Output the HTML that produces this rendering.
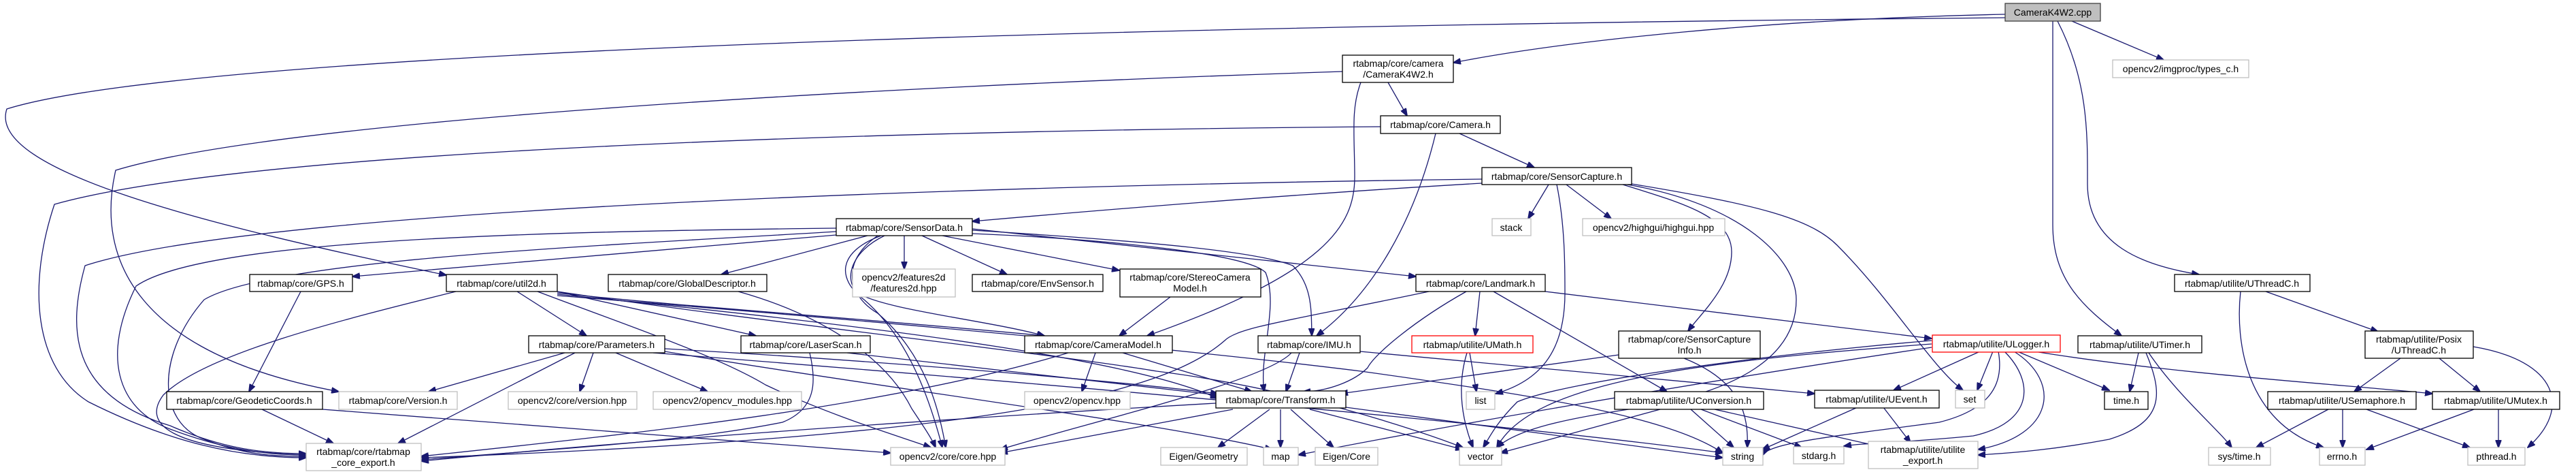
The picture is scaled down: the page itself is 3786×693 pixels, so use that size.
<!DOCTYPE html>
<html><head><meta charset="utf-8"><style>
html,body{margin:0;padding:0;background:#fff;width:3786px;height:693px;overflow:hidden}
svg{display:block}
text{font-family:"Liberation Sans",sans-serif;font-size:14px;fill:#000;text-anchor:middle}
.n{fill:#fff;stroke:#000;stroke-width:1.3}
.g{fill:#fff;stroke:#bfbfbf;stroke-width:1.3}
.r{fill:#fff;stroke:#ff0000;stroke-width:1.3}
.e path{fill:none;stroke:#191970;stroke-width:1.3}
</style></head><body>
<svg width="3786" height="693" viewBox="0 0 3786 693" xmlns="http://www.w3.org/2000/svg">
<defs><marker id="a" markerWidth="12" markerHeight="9" refX="11" refY="4.5" orient="auto" markerUnits="userSpaceOnUse"><path d="M0,0 L12,4.5 L0,9 z" fill="#191970" stroke="#191970"/></marker></defs>
<g class="e" marker-end="url(#a)">
<path marker-end="url(#a)" d="M2947,21 C2600,28 2300,60 2136,92"/>
<path marker-end="url(#a)" d="M2947,26 C1800,36 300,70 10,160 C-20,250 300,330 656,404"/>
<path marker-end="url(#a)" d="M3045,31 L3180,88"/>
<path marker-end="url(#a)" d="M3024,31 C3070,120 3068,200 3068,270 C3068,360 3150,390 3232,403"/>
<path marker-end="url(#a)" d="M3017,31 L3017,330 C3017,410 3060,450 3118,493"/>
<path marker-end="url(#a)" d="M1973,105 C1200,130 400,180 170,250 C140,380 200,520 498,575"/>
<path marker-end="url(#a)" d="M2040,121 L2068,170"/>
<path marker-end="url(#a)" d="M2000,121 C1985,160 1991,200 1991,260 C1991,330 1950,400 1686,493"/>
<path marker-end="url(#a)" d="M2029,186 C1500,190 400,210 80,300 C40,420 50,540 130,590 C250,650 350,672 450,672"/>
<path marker-end="url(#a)" d="M2110,196 C2080,320 2020,430 1935,493"/>
<path marker-end="url(#a)" d="M2145,196 L2255,246"/>
<path marker-end="url(#a)" d="M2178,263 C1600,270 400,300 125,390 C100,480 100,580 250,625 C330,660 390,666 450,666"/>
<path marker-end="url(#a)" d="M2178,269 C1900,285 1600,310 1429,325"/>
<path marker-end="url(#a)" d="M2276,271 L2246,321"/>
<path marker-end="url(#a)" d="M2302,271 L2368,321"/>
<path marker-end="url(#a)" d="M2288,271 C2300,330 2300,390 2300,430 C2300,520 2260,560 2198,578"/>
<path marker-end="url(#a)" d="M2385,271 C2480,300 2545,320 2545,370 C2545,420 2500,460 2481,486"/>
<path marker-end="url(#a)" d="M2392,271 C2560,300 2640,380 2640,440 C2640,520 2560,575 2400,600 C2300,615 2230,630 2200,657"/>
<path marker-end="url(#a)" d="M2398,270 C2580,300 2660,320 2700,360 C2780,440 2840,540 2885,573"/>
<path marker-end="url(#a)" d="M1229,345 L518,406"/>
<path marker-end="url(#a)" d="M1229,335 C800,340 300,350 200,420 C150,520 170,600 250,630 C330,660 390,668 450,668"/>
<path marker-end="url(#a)" d="M1229,340 C900,360 400,380 300,440 C230,520 230,620 300,645 C360,668 400,670 450,670"/>
<path marker-end="url(#a)" d="M1275,346 L1060,403"/>
<path marker-end="url(#a)" d="M1329,346 L1329,395"/>
<path marker-end="url(#a)" d="M1355,346 L1480,403"/>
<path marker-end="url(#a)" d="M1385,346 L1645,397"/>
<path marker-end="url(#a)" d="M1300,346 C1250,370 1240,410 1260,430 C1300,455 1450,470 1535,493"/>
<path marker-end="url(#a)" d="M1290,346 C1240,380 1240,430 1290,460 C1360,520 1380,600 1390,657"/>
<path marker-end="url(#a)" d="M1295,346 C1230,370 1230,410 1270,440 C1340,500 1370,600 1385,657"/>
<path marker-end="url(#a)" d="M1429,343 C1600,350 1830,370 1860,400 C1880,450 1850,520 1858,575"/>
<path marker-end="url(#a)" d="M1429,338 C1700,355 1850,370 1900,390 C1930,420 1927,460 1928,493"/>
<path marker-end="url(#a)" d="M1429,336 L2081,406"/>
<path marker-end="url(#a)" d="M442,428 L366,575"/>
<path marker-end="url(#a)" d="M670,428 C500,470 300,520 240,580 C210,620 240,660 450,668"/>
<path marker-end="url(#a)" d="M760,428 L862,493"/>
<path marker-end="url(#a)" d="M819,428 L1111,493"/>
<path marker-end="url(#a)" d="M819,430 C1000,450 1300,470 1535,493"/>
<path marker-end="url(#a)" d="M790,428 C900,470 1050,520 1125,565 C1220,610 1320,640 1368,657"/>
<path marker-end="url(#a)" d="M819,432 C1200,470 1650,520 1790,585"/>
<path marker-end="url(#a)" d="M819,428 C1100,470 1550,520 1700,545 C1900,570 2080,630 2150,657"/>
<path marker-end="url(#a)" d="M819,434 C1400,480 1800,520 2000,545 C2250,580 2450,610 2532,665"/>
<path marker-end="url(#a)" d="M830,518 L630,575"/>
<path marker-end="url(#a)" d="M845,518 L585,651"/>
<path marker-end="url(#a)" d="M872,518 L852,575"/>
<path marker-end="url(#a)" d="M905,518 L1040,575"/>
<path marker-end="url(#a)" d="M977,512 C1300,530 1650,560 1790,578"/>
<path marker-end="url(#a)" d="M977,516 C1300,570 1700,620 1870,660"/>
<path marker-end="url(#a)" d="M960,518 C1500,560 2200,620 2532,665"/>
<path marker-end="url(#a)" d="M385,601 L490,651"/>
<path marker-end="url(#a)" d="M474,601 L1309,665"/>
<path marker-end="url(#a)" d="M1085,428 C1200,460 1300,520 1340,600 C1360,630 1370,645 1375,657"/>
<path marker-end="url(#a)" d="M1190,518 C1200,560 1200,600 1150,620 C1000,650 800,660 619,675"/>
<path marker-end="url(#a)" d="M1245,518 L1790,580"/>
<path marker-end="url(#a)" d="M1720,436 L1645,493"/>
<path marker-end="url(#a)" d="M1610,518 L1590,575"/>
<path marker-end="url(#a)" d="M1650,518 L1840,575"/>
<path marker-end="url(#a)" d="M1570,518 C1300,600 900,640 619,670"/>
<path marker-end="url(#a)" d="M2100,428 C1900,470 1820,480 1800,500 C1720,570 1500,640 619,672"/>
<path marker-end="url(#a)" d="M2155,428 C2080,470 2020,520 2010,540 C1990,560 1950,575 1915,575"/>
<path marker-end="url(#a)" d="M2175,428 L2168,493"/>
<path marker-end="url(#a)" d="M2195,428 L2450,575"/>
<path marker-end="url(#a)" d="M2271,428 L2839,497"/>
<path marker-end="url(#a)" d="M1910,518 L1890,575"/>
<path marker-end="url(#a)" d="M1999,516 L2667,578"/>
<path marker-end="url(#a)" d="M1898,518 C1860,560 1600,620 1470,660"/>
<path marker-end="url(#a)" d="M2160,518 L2170,575"/>
<path marker-end="url(#a)" d="M2156,518 C2140,570 2150,620 2165,657"/>
<path marker-end="url(#a)" d="M2379,521 L1970,578"/>
<path marker-end="url(#a)" d="M2475,526 C2560,560 2570,610 2568,657"/>
<path marker-end="url(#a)" d="M2839,500 C2600,520 2300,560 2230,590 C2200,620 2190,640 2180,657"/>
<path marker-end="url(#a)" d="M2839,505 C2500,530 2250,560 2200,657"/>
<path marker-end="url(#a)" d="M2910,516 L2783,573"/>
<path marker-end="url(#a)" d="M2929,516 L2906,573"/>
<path marker-end="url(#a)" d="M2937,516 C2945,560 2930,600 2850,620 C2700,640 2600,650 2591,668"/>
<path marker-end="url(#a)" d="M2946,516 C2990,560 2990,620 2900,640 C2800,650 2740,650 2710,655"/>
<path marker-end="url(#a)" d="M2960,516 C3030,560 3020,640 2907,660"/>
<path marker-end="url(#a)" d="M2965,516 L3100,573"/>
<path marker-end="url(#a)" d="M2990,516 C3200,550 3450,565 3575,578"/>
<path marker-end="url(#a)" d="M2839,510 C2500,560 2100,630 1908,668"/>
<path marker-end="url(#a)" d="M3143,518 L3130,575"/>
<path marker-end="url(#a)" d="M3158,518 C3200,580 3260,630 3280,657"/>
<path marker-end="url(#a)" d="M3154,518 C3180,580 3180,620 3100,645 C3020,660 2960,665 2907,668"/>
<path marker-end="url(#a)" d="M3330,428 L3495,487"/>
<path marker-end="url(#a)" d="M3293,428 C3285,500 3300,620 3415,657"/>
<path marker-end="url(#a)" d="M3528,526 L3460,575"/>
<path marker-end="url(#a)" d="M3585,526 L3645,575"/>
<path marker-end="url(#a)" d="M3635,509 C3760,530 3780,600 3715,657"/>
<path marker-end="url(#a)" d="M3422,601 L3316,657"/>
<path marker-end="url(#a)" d="M3443,601 L3443,657"/>
<path marker-end="url(#a)" d="M3478,601 L3630,657"/>
<path marker-end="url(#a)" d="M3636,601 L3478,660"/>
<path marker-end="url(#a)" d="M3672,601 L3672,657"/>
<path marker-end="url(#a)" d="M1787,592 C1300,620 900,650 619,677"/>
<path marker-end="url(#a)" d="M1812,601 L1470,665"/>
<path marker-end="url(#a)" d="M1866,601 L1790,657"/>
<path marker-end="url(#a)" d="M1882,601 L1882,657"/>
<path marker-end="url(#a)" d="M1897,601 L1960,657"/>
<path marker-end="url(#a)" d="M1925,601 L2150,660"/>
<path marker-end="url(#a)" d="M1978,598 L2532,672"/>
<path marker-end="url(#a)" d="M2440,601 L2205,665"/>
<path marker-end="url(#a)" d="M2485,601 L2548,657"/>
<path marker-end="url(#a)" d="M2500,601 L2648,657"/>
<path marker-end="url(#a)" d="M2520,601 L2760,655"/>
<path marker-end="url(#a)" d="M2730,598 L2590,660"/>
<path marker-end="url(#a)" d="M2768,598 L2808,650"/>
</g>
<rect class="g" x="2947" y="5" width="140" height="26" style="fill:#bfbfbf;stroke:#404040"/><text x="3017" y="23">CameraK4W2.cpp</text>
<rect class="g" x="3105" y="88" width="200" height="26"/><text x="3205" y="106">opencv2/imgproc/types_c.h</text>
<rect class="n" x="1973" y="81" width="163" height="40"/><text x="2055" y="98">rtabmap/core/camera</text><text x="2055" y="114">/CameraK4W2.h</text>
<rect class="n" x="2029" y="170" width="176" height="26"/><text x="2117" y="188">rtabmap/core/Camera.h</text>
<rect class="n" x="2178" y="246" width="220" height="25"/><text x="2288" y="264">rtabmap/core/SensorCapture.h</text>
<rect class="n" x="1229" y="321" width="200" height="25"/><text x="1329" y="339">rtabmap/core/SensorData.h</text>
<rect class="g" x="2193" y="321" width="57" height="25"/><text x="2221" y="339">stack</text>
<rect class="g" x="2326" y="321" width="209" height="25"/><text x="2430" y="339">opencv2/highgui/highgui.hpp</text>
<rect class="n" x="367" y="403" width="151" height="25"/><text x="442" y="421">rtabmap/core/GPS.h</text>
<rect class="n" x="656" y="403" width="163" height="25"/><text x="737" y="421">rtabmap/core/util2d.h</text>
<rect class="n" x="894" y="403" width="233" height="25"/><text x="1010" y="421">rtabmap/core/GlobalDescriptor.h</text>
<rect class="g" x="1253" y="395" width="151" height="41"/><text x="1328" y="412">opencv2/features2d</text><text x="1328" y="428">/features2d.hpp</text>
<rect class="n" x="1429" y="403" width="192" height="25"/><text x="1525" y="421">rtabmap/core/EnvSensor.h</text>
<rect class="n" x="1646" y="395" width="207" height="41"/><text x="1749" y="412">rtabmap/core/StereoCamera</text><text x="1749" y="428">Model.h</text>
<rect class="n" x="2081" y="403" width="190" height="25"/><text x="2176" y="421">rtabmap/core/Landmark.h</text>
<rect class="n" x="3196" y="403" width="199" height="25"/><text x="3295" y="421">rtabmap/utilite/UThreadC.h</text>
<rect class="n" x="777" y="493" width="200" height="25"/><text x="877" y="511">rtabmap/core/Parameters.h</text>
<rect class="n" x="1089" y="493" width="190" height="25"/><text x="1184" y="511">rtabmap/core/LaserScan.h</text>
<rect class="n" x="1506" y="493" width="217" height="25"/><text x="1614" y="511">rtabmap/core/CameraModel.h</text>
<rect class="n" x="1849" y="493" width="150" height="25"/><text x="1924" y="511">rtabmap/core/IMU.h</text>
<rect class="r" x="2075" y="493" width="178" height="25"/><text x="2164" y="511">rtabmap/utilite/UMath.h</text>
<rect class="n" x="2379" y="486" width="208" height="40"/><text x="2483" y="503">rtabmap/core/SensorCapture</text><text x="2483" y="519">Info.h</text>
<rect class="r" x="2840" y="492" width="188" height="25"/><text x="2934" y="510">rtabmap/utilite/ULogger.h</text>
<rect class="n" x="3054" y="493" width="182" height="25"/><text x="3145" y="511">rtabmap/utilite/UTimer.h</text>
<rect class="n" x="3476" y="486" width="159" height="40"/><text x="3555" y="503">rtabmap/utilite/Posix</text><text x="3555" y="519">/UThreadC.h</text>
<rect class="n" x="245" y="575" width="229" height="26"/><text x="359" y="593">rtabmap/core/GeodeticCoords.h</text>
<rect class="g" x="498" y="575" width="174" height="26"/><text x="585" y="593">rtabmap/core/Version.h</text>
<rect class="g" x="747" y="575" width="189" height="26"/><text x="841" y="593">opencv2/core/version.hpp</text>
<rect class="g" x="960" y="575" width="218" height="26"/><text x="1069" y="593">opencv2/opencv_modules.hpp</text>
<rect class="g" x="1506" y="575" width="155" height="26"/><text x="1583" y="593">opencv2/opencv.hpp</text>
<rect class="n" x="1787" y="574" width="191" height="25"/><text x="1882" y="592">rtabmap/core/Transform.h</text>
<rect class="g" x="2155" y="575" width="42" height="26"/><text x="2176" y="593">list</text>
<rect class="n" x="2373" y="575" width="219" height="26"/><text x="2482" y="593">rtabmap/utilite/UConversion.h</text>
<rect class="n" x="2667" y="573" width="183" height="26"/><text x="2758" y="591">rtabmap/utilite/UEvent.h</text>
<rect class="g" x="2874" y="573" width="43" height="26"/><text x="2895" y="591">set</text>
<rect class="n" x="3093" y="575" width="64" height="26"/><text x="3125" y="593">time.h</text>
<rect class="n" x="3333" y="575" width="218" height="26"/><text x="3442" y="593">rtabmap/utilite/USemaphore.h</text>
<rect class="n" x="3575" y="575" width="187" height="26"/><text x="3668" y="593">rtabmap/utilite/UMutex.h</text>
<rect class="g" x="450" y="651" width="169" height="40"/><text x="534" y="668">rtabmap/core/rtabmap</text><text x="534" y="684">_core_export.h</text>
<rect class="g" x="1309" y="657" width="168" height="26"/><text x="1393" y="675">opencv2/core/core.hpp</text>
<rect class="g" x="1706" y="657" width="127" height="26"/><text x="1769" y="675">Eigen/Geometry</text>
<rect class="g" x="1857" y="657" width="51" height="26"/><text x="1882" y="675">map</text>
<rect class="g" x="1933" y="657" width="92" height="26"/><text x="1979" y="675">Eigen/Core</text>
<rect class="g" x="2145" y="657" width="62" height="26"/><text x="2176" y="675">vector</text>
<rect class="g" x="2532" y="657" width="59" height="26"/><text x="2561" y="675">string</text>
<rect class="g" x="2636" y="656" width="74" height="25"/><text x="2673" y="674">stdarg.h</text>
<rect class="g" x="2746" y="648" width="161" height="40"/><text x="2826" y="665">rtabmap/utilite/utilite</text><text x="2826" y="681">_export.h</text>
<rect class="g" x="3246" y="657" width="91" height="26"/><text x="3291" y="675">sys/time.h</text>
<rect class="g" x="3409" y="657" width="67" height="26"/><text x="3442" y="675">errno.h</text>
<rect class="g" x="3627" y="657" width="84" height="26"/><text x="3669" y="675">pthread.h</text>
</svg>
</body></html>
